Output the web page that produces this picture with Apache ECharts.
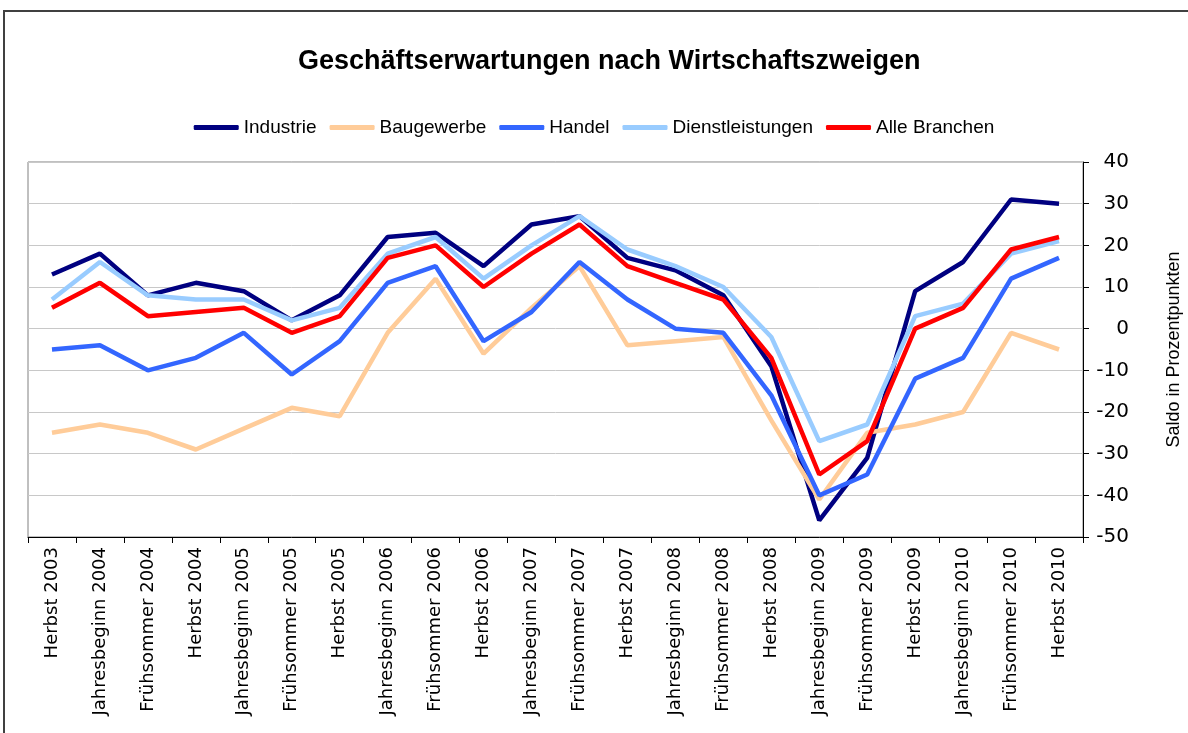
<!DOCTYPE html>
<html>
<head>
<meta charset="utf-8">
<script src="https://cdn.jsdelivr.net/npm/echarts@6/dist/echarts.min.js"></script>
<style>
  html, body { margin: 0; padding: 0; background: #fff; }
  #chart { width: 1188px; height: 733px; }
</style>
</head>
<body>
<div id="chart"></div>
<script>
const categories = [
  'Herbst 2003', 'Jahresbeginn 2004', 'Frühsommer 2004', 'Herbst 2004',
  'Jahresbeginn 2005', 'Frühsommer 2005', 'Herbst 2005', 'Jahresbeginn 2006',
  'Frühsommer 2006', 'Herbst 2006', 'Jahresbeginn 2007', 'Frühsommer 2007',
  'Herbst 2007', 'Jahresbeginn 2008', 'Frühsommer 2008', 'Herbst 2008',
  'Jahresbeginn 2009', 'Frühsommer 2009', 'Herbst 2009', 'Jahresbeginn 2010',
  'Frühsommer 2010', 'Herbst 2010'
]

const industrie = [13, 18, 8, 11, 9, 2, 8, 22, 23, 15, 25, 27, 17, 14, 8, -9, -46, -31, 9, 16, 31, 30]
const baugewerbe = [-25, -23, -25, -29, -24, -19, -21, -1, 12, -6, 5, 15, -4, -3, -2, -22, -41, -25, -23, -20, -1, -5]
const handel = [-5, -4, -10, -7, -1, -11, -3, 11, 15, -3, 4, 16, 7, 0, -1, -16, -40, -35, -12, -7, 12, 17]
const dienstleistungen = [7, 16, 8, 7, 7, 2, 5, 18, 22, 12, 20, 27, 19, 15, 10, -2, -27, -23, 3, 6, 18, 21]
const alleBranchen = [5, 11, 3, 4, 5, -1, 3, 17, 20, 10, 18, 25, 15, 11, 7, -7, -35, -27, 0, 5, 19, 22]

const seriesDefs = [
  { name: 'Industrie', data: industrie, color: '#000080' },
  { name: 'Baugewerbe', data: baugewerbe, color: '#FFCC99' },
  { name: 'Handel', data: handel, color: '#3366FF' },
  { name: 'Dienstleistungen', data: dienstleistungen, color: '#99CCFF' },
  { name: 'Alle Branchen', data: alleBranchen, color: '#FF0000' }
]

const chart = echarts.init(document.getElementById('chart'))

const option = {
  animation: false,
  backgroundColor: '#fff',
  graphic: [
    {
      type: 'rect',
      shape: { x: 4, y: 11, width: 1300, height: 900 },
      style: { fill: 'none', stroke: '#404040', lineWidth: 2 },
      silent: true
    }
  ],
  title: {
    text: 'Geschäftserwartungen nach Wirtschaftszweigen',
    left: 293,
    top: 43,
    textStyle: { fontFamily: 'Liberation Sans', fontSize: 27, fontWeight: 'bold', color: '#000' }
  },
  legend: {
    top: 113,
    left: 'center',
    icon: 'roundRect',
    itemWidth: 45,
    itemHeight: 5,
    itemGap: 13,
    textStyle: { fontFamily: 'Liberation Sans', fontSize: 19, color: '#000' },
    data: seriesDefs.map(s => s.name)
  },
  grid: {
    left: 28,
    right: 105,
    top: 162,
    bottom: 196,
    outerBoundsMode: 'none',
    show: true,
    borderColor: '#808080',
    borderWidth: 1
  },
  xAxis: {
    type: 'category',
    data: categories,
    boundaryGap: true,
    axisLine: { onZero: false, lineStyle: { color: '#000', width: 1 } },
    axisTick: { show: true, interval: 0, length: 6, lineStyle: { color: '#000' } },
    axisLabel: {
      interval: 0,
      rotate: 90,
      margin: 10,
      fontFamily: 'DejaVu Sans',
      fontSize: 18,
      color: '#000'
    },
    splitLine: { show: false }
  },
  yAxis: {
    type: 'value',
    position: 'right',
    min: -50,
    max: 40,
    interval: 10,
    name: 'Saldo in Prozentpunkten',
    nameLocation: 'middle',
    nameGap: 82,
    nameRotate: 90,
    nameTextStyle: { fontFamily: 'Liberation Sans', fontSize: 18, color: '#000' },
    axisLine: { show: true, lineStyle: { color: '#000', width: 1 } },
    axisTick: { show: true, length: 6, lineStyle: { color: '#000' } },
    axisLabel: {
      align: 'right',
      margin: 46,
      fontFamily: 'DejaVu Sans',
      fontSize: 20,
      color: '#000'
    },
    splitLine: { show: true, lineStyle: { color: '#c8c8c8', width: 1 } }
  },
  series: seriesDefs.map(s => ({
    name: s.name,
    type: 'line',
    data: s.data,
    symbol: 'none',
    color: s.color,
    lineStyle: { color: s.color, width: 4.5 }
  }))
}

chart.setOption(option)
</script>
</body>
</html>
